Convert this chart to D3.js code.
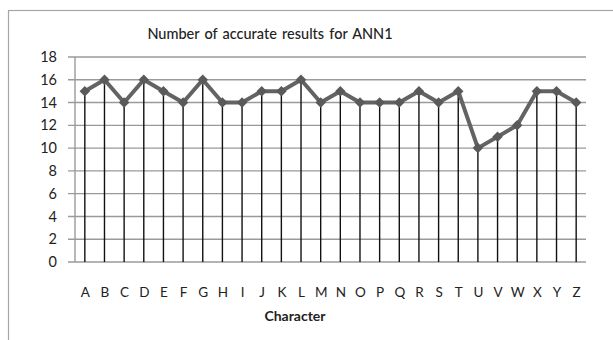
<!DOCTYPE html>
<html>
<head>
<meta charset="utf-8">
<script src="https://cdn.jsdelivr.net/npm/d3@7"></script>
<style>
  html, body { margin: 0; padding: 0; background: #fff; }
  svg { display: block; font-family: Lato, "Open Sans", "Liberation Sans", sans-serif; }
</style>
</head>
<body>
<svg id="chart" width="613" height="340"></svg>
<script>
const title = "Number of accurate results for ANN1";
const xTitle = "Character";
const characters = ["A","B","C","D","E","F","G","H","I","J","K","L","M","N","O","P","Q","R","S","T","U","V","W","X","Y","Z"];
const accurate = [15,16,14,16,15,14,16,14,14,15,15,16,14,15,14,14,14,15,14,15,10,11,12,15,15,14];
const yTicks = [0,2,4,6,8,10,12,14,16,18];

const svg = d3.select("#chart");

// chart frame
svg.append("rect")
  .attr("x", 8.5).attr("y", 10.5)
  .attr("width", 640).attr("height", 400)
  .attr("fill", "none").attr("stroke", "#a6a6a6").attr("stroke-width", 1.2);

const plotLeft = 75, plotRight = 586, plotTop = 57, plotBottom = 262;

const x = d3.scalePoint().domain(characters).range([plotLeft, plotRight]).padding(0.5);
const y = d3.scaleLinear().domain([0, 18]).range([plotBottom, plotTop]);

// horizontal gridlines
svg.append("g")
  .selectAll("line")
  .data(yTicks)
  .join("line")
  .attr("x1", plotLeft - 7).attr("x2", plotRight)
  .attr("y1", d => y(d)).attr("y2", d => y(d))
  .attr("stroke", "#9a9a9a").attr("stroke-width", 1.4);

// value axis line
svg.append("line")
  .attr("x1", plotLeft).attr("x2", plotLeft)
  .attr("y1", y(18)).attr("y2", y(0))
  .attr("stroke", "#9a9a9a").attr("stroke-width", 1.4);

// y tick labels
const yAxis = d3.axisLeft(y).tickValues(yTicks).tickSize(0).tickPadding(0);
const gy = svg.append("g").attr("transform", `translate(${plotLeft - 18},0)`).call(yAxis);
gy.select(".domain").remove();
gy.selectAll("text")
  .attr("font-size", 14.5).attr("fill", "#222")
  .attr("font-family", "Lato, 'Open Sans', sans-serif");

// drop lines from each point to the axis
svg.append("g")
  .selectAll("line")
  .data(characters)
  .join("line")
  .attr("x1", d => x(d)).attr("x2", d => x(d))
  .attr("y1", (d, i) => y(accurate[i])).attr("y2", y(0))
  .attr("stroke", "#111").attr("stroke-width", 1.4);

// x tick labels
const xAxis = d3.axisBottom(x).tickSize(0).tickPadding(0);
const gx = svg.append("g").attr("transform", `translate(0,${plotBottom + 25})`).call(xAxis);
gx.select(".domain").remove();
gx.selectAll("text")
  .attr("font-size", 13.5).attr("fill", "#222")
  .attr("font-family", "Lato, 'Open Sans', sans-serif");

// series line
const line = d3.line()
  .x((d, i) => x(characters[i]))
  .y(d => y(d));
svg.append("path")
  .datum(accurate)
  .attr("d", line)
  .attr("fill", "none")
  .attr("stroke", "#636363")
  .attr("stroke-width", 4)
  .attr("stroke-linejoin", "round");

// diamond markers
const diamond = d3.symbol().type(d3.symbolDiamond2).size(70);
svg.append("g")
  .selectAll("path")
  .data(accurate)
  .join("path")
  .attr("d", diamond)
  .attr("transform", (d, i) => `translate(${x(characters[i])},${y(d)})`)
  .attr("fill", "#5a5a5a");

// title
svg.append("text")
  .attr("x", 270).attr("y", 39)
  .attr("text-anchor", "middle")
  .attr("font-size", 14.5).attr("font-weight", 500).attr("fill", "#222")
  .attr("word-spacing", 1.5)
  .text(title);

// x axis title
svg.append("text")
  .attr("x", 295).attr("y", 321)
  .attr("text-anchor", "middle")
  .attr("font-size", 14).attr("font-weight", 700).attr("fill", "#222")
  .text(xTitle);
</script>
</body>
</html>
